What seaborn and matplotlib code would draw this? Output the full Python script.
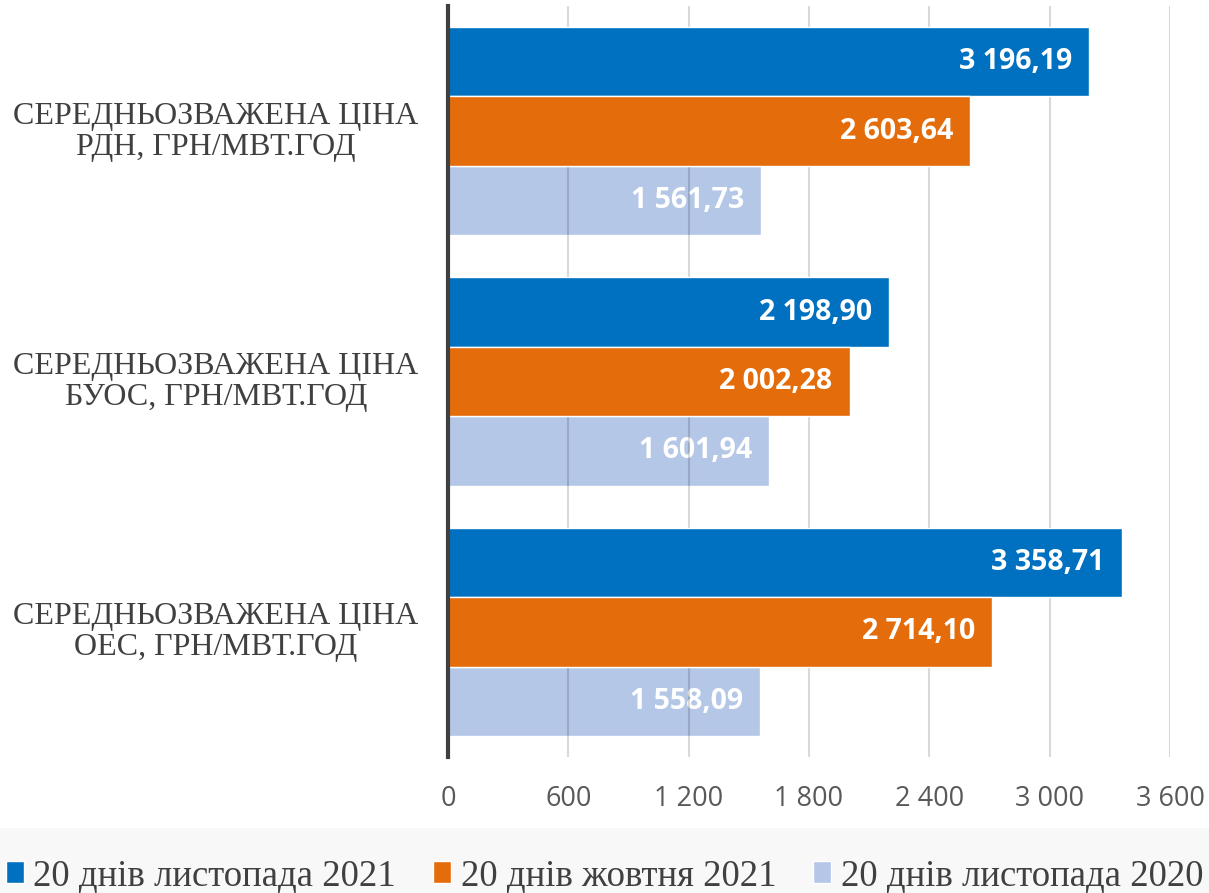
import matplotlib.pyplot as plt
import matplotlib.colors as mcolors
import seaborn as sns
import pandas as pd
from matplotlib.patches import Rectangle
from matplotlib.ticker import FuncFormatter

# Дані
categories = ["СЕРЕДНЬОЗВАЖЕНА ЦІНА\nРДН, ГРН/МВТ.ГОД",
              "СЕРЕДНЬОЗВАЖЕНА ЦІНА\nБУОС, ГРН/МВТ.ГОД",
              "СЕРЕДНЬОЗВАЖЕНА ЦІНА\nОЕС, ГРН/МВТ.ГОД"]
series = ["20 днів листопада 2021", "20 днів жовтня 2021", "20 днів листопада 2020"]
nov_2021 = [3196.19, 2198.90, 3358.71]
oct_2021 = [2603.64, 2002.28, 2714.10]
nov_2020 = [1561.73, 1601.94, 1558.09]
colors = ["#0070c0", "#e46c0a", "#b4c7e7"]

df = pd.DataFrame({
    "cat": categories * 3,
    "series": [s for s in series for _ in categories],
    "value": nov_2021 + oct_2021 + nov_2020,
})


def ua_fmt(v, decimals=2):
    s = f"{v:,.{decimals}f}"
    return s.replace(",", " ").replace(".", ",")


sns.set_style("white")
fig = plt.figure(figsize=(12.09, 8.93), dpi=100)
# смуга легенди
fig.patches.append(Rectangle((0, 0), 1, 65 / 893, transform=fig.transFigure,
                             facecolor="#f8f8f8", edgecolor="none", zorder=0))
ax = fig.add_axes([448 / 1209, 1 - 757 / 893, (1170 - 448) / 1209, (757 - 6) / 893])

sns.barplot(data=df, y="cat", x="value", hue="series", hue_order=series,
            palette=colors, orient="h", width=0.832, saturation=1,
            ax=ax, legend=False)

light = mcolors.to_rgb(colors[2])
for p in ax.patches:
    is_light = tuple(p.get_facecolor()[:3]) == light
    p.set_zorder(1 if is_light else 3)
    w = p.get_width()
    ax.text(w - 3600 * 17 / 722, p.get_y() + p.get_height() / 2, ua_fmt(w),
            ha="right", va="center", color="white", fontsize=20.5,
            fontweight="bold", family="Open Sans", zorder=1.5 if is_light else 4)

ax.set_xlim(0, 3600)
ax.set_ylim(2.5, -0.5)
ax.set_xticks(range(0, 3601, 600))
ax.xaxis.set_major_formatter(FuncFormatter(lambda v, _: ua_fmt(v, 0)))
ax.grid(axis="x", color="black", alpha=0.15, linewidth=1.5, zorder=2)
ax.set_axisbelow(False)
for line in ax.get_xgridlines():
    line.set_zorder(2)
for s in ["top", "right", "bottom"]:
    ax.spines[s].set_visible(False)
ax.spines["left"].set_color("#404040")
ax.spines["left"].set_linewidth(3)
ax.spines["left"].set_zorder(5)
ax.tick_params(axis="x", length=0, pad=20, labelsize=19.5, labelcolor="#595959")
for t in ax.get_xticklabels():
    t.set_family("Open Sans")
ax.tick_params(axis="y", length=0, pad=0)
ax.set_yticklabels([])
ax.set_xlabel("")
ax.set_ylabel("")

for i, c in enumerate(categories):
    fig.text(216 / 1209, 1 - (132 + 250 * i) / 893, c, ha="center", va="center",
             family="Liberation Serif", fontsize=23, color="#404040", linespacing=1.05)

# легенда
handles = [Rectangle((0, 0), 1, 1, facecolor=c) for c in colors]
fig.legend(handles, series, loc="center", bbox_to_anchor=(0.5, 1 - 876 / 893),
           ncol=3, frameon=False, prop={"family": "Liberation Serif", "size": 26.5},
           handlelength=0.5, handleheight=0.55, handletextpad=0.25, columnspacing=1.0,
           labelcolor="#404040")

fig.savefig("out.png", dpi=100)
